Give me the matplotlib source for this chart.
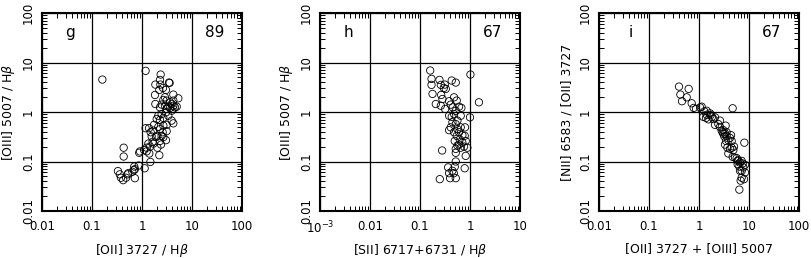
import matplotlib
matplotlib.use("Agg")
import matplotlib.pyplot as plt
from matplotlib.ticker import LogLocator, FixedLocator, NullFormatter

plt.rcParams['font.family'] = ['DejaVu Sans']
plt.rcParams['mathtext.fontset'] = 'dejavusans'

# Panel g: [OII]3727/Hb vs [OIII]5007/Hb
g_x = [0.161, 1.18, 2.36, 2.29, 1.85, 2.33, 3.47, 3.57, 2.63, 3.02, 2.22, 1.82, 2.88, 4.23, 5.33,
       1.85, 2.67, 3.11, 3.63, 3.92, 4.23, 4.57, 3.36, 2.88, 2.47, 2.29, 3.11, 3.63, 4.23, 4.94,
       3.92, 3.02, 2.47, 2.12, 2.29, 1.97, 2.67, 3.36, 3.92, 4.23, 3.11, 2.67, 2.12, 1.74, 1.38,
       1.18, 1.49, 1.69, 2.29, 2.59, 3.11, 2.47, 2.67, 2.03, 1.56, 1.63, 1.69, 1.34, 1.45, 1.24,
       1.91, 2.29, 2.40, 3.02, 2.03, 0.91, 1.10, 1.24, 0.88, 1.40, 2.22, 1.47, 1.13, 0.43, 0.43,
       0.86, 0.70, 0.72, 0.64, 0.52, 0.48, 0.33, 0.36, 0.38, 0.42, 0.72, 0.53, 0.69, 4.23]
g_y = [4.52, 6.78, 5.71, 4.45, 3.58, 3.58, 3.93, 3.87, 3.06, 2.79, 2.79, 2.21, 1.98, 2.25, 1.89,
       1.45, 1.75, 1.70, 1.57, 1.45, 1.34, 1.24, 1.28, 1.34, 1.41, 1.24, 1.15, 1.21, 1.15, 1.28,
       1.06, 0.98, 0.91, 0.84, 0.69, 0.72, 0.76, 0.84, 0.67, 0.59, 0.55, 0.53, 0.50, 0.55, 0.47,
       0.47, 0.39, 0.42, 0.45, 0.39, 0.41, 0.33, 0.31, 0.33, 0.32, 0.25, 0.23, 0.23, 0.20, 0.19,
       0.31, 0.26, 0.22, 0.27, 0.19, 0.16, 0.17, 0.16, 0.15, 0.145, 0.134, 0.098, 0.073, 0.19, 0.126,
       0.083, 0.079, 0.070, 0.062, 0.055, 0.047, 0.064, 0.055, 0.047, 0.042, 0.046, 0.058, 0.067, 1.70]

# Panel h: [SII]6717+6731/Hb vs [OIII]5007/Hb
h_x = [0.160, 0.170, 0.170, 0.245, 0.261, 0.313, 0.431, 0.519, 1.02, 0.299, 0.328, 0.265, 0.178, 0.281,
       0.207, 0.318, 0.261, 0.382, 0.480, 0.543, 0.412, 1.51, 0.452, 0.604, 0.672, 0.382, 0.431, 0.519,
       0.480, 0.560, 0.519, 1.00, 0.412, 0.382, 0.480, 0.560, 0.652, 0.795, 0.543, 0.703, 0.783, 0.623,
       0.495, 0.604, 0.703, 0.820, 0.560, 0.519, 0.652, 0.519, 0.760, 0.277, 0.820, 0.519, 0.365, 0.495,
       0.445, 0.382, 0.473, 0.400, 0.519, 0.249, 0.783, 0.652, 0.604, 0.445, 0.885]
h_y = [6.89, 4.67, 3.53, 4.45, 3.53, 3.58, 4.32, 3.93, 5.71, 3.06, 2.93, 2.21, 2.32, 1.83,
       1.45, 1.15, 1.34, 1.65, 1.98, 1.70, 1.41, 1.57, 1.24, 1.28, 1.21, 0.84, 0.80, 1.06,
       0.91, 0.67, 0.57, 0.78, 0.49, 0.43, 0.39, 0.45, 0.49, 0.49, 0.33, 0.34, 0.33, 0.28,
       0.26, 0.22, 0.24, 0.26, 0.21, 0.18, 0.19, 0.15, 0.20, 0.167, 0.130, 0.100, 0.076, 0.078,
       0.065, 0.058, 0.058, 0.046, 0.046, 0.044, 0.073, 0.84, 0.39, 0.62, 0.19]

# Panel i: [OII]3727+[OIII]5007 vs [NII]6583/[OII]3727
i_x = [0.398, 0.621, 0.424, 0.567, 0.457, 0.714, 0.782, 0.871, 1.05, 1.13, 1.28, 1.42, 1.66, 1.71,
       1.82, 1.94, 2.09, 1.22, 1.38, 1.54, 2.09, 2.44, 2.63, 2.84, 2.97, 3.07, 3.31, 3.21, 3.57, 3.86,
       4.17, 4.50, 3.47, 3.31, 3.69, 4.17, 4.50, 4.86, 3.86, 4.71, 5.25, 5.67, 6.12, 6.61, 7.13, 5.93,
       6.41, 7.47, 8.32, 7.70, 6.61, 6.81, 7.13, 7.94, 6.41, 8.07, 4.71, 3.57, 4.37, 5.01, 5.84, 7.13,
       2.63, 1.42, 3.41, 8.32, 3.07]
i_y = [3.26, 2.93, 2.25, 1.98, 1.65, 1.50, 1.21, 1.15, 1.24, 1.28, 1.03, 1.06, 0.94, 0.87,
       0.80, 0.72, 0.78, 0.80, 0.76, 0.71, 0.55, 0.57, 0.50, 0.42, 0.39, 0.36, 0.37, 0.32, 0.33, 0.27,
       0.30, 0.26, 0.26, 0.22, 0.19, 0.18, 0.19, 0.17, 0.145, 0.124, 0.12, 0.117, 0.106, 0.095, 0.103, 0.088,
       0.079, 0.091, 0.086, 0.076, 0.065, 0.041, 0.047, 0.044, 0.027, 0.24, 1.19, 0.39, 0.34, 0.20, 0.103, 0.065,
       0.67, 0.88, 0.53, 0.060, 0.43]

panels = [
    dict(x=g_x, y=g_y, xlim=(0.01, 100), xticks=[0.01, 0.1, 1, 10, 100],
         xticklabels=['0.01', '0.1', '1', '10', '100'],
         xlabel=r'[OII] 3727 / H$\it{\beta}$', ylabel=r'[OIII] 5007 / H$\it{\beta}$',
         tag='g', count='89', left=42, tagx=0.14),
    dict(x=h_x, y=h_y, xlim=(0.001, 10), xticks=[0.001, 0.01, 0.1, 1, 10],
         xticklabels=[r'$10^{-3}$', '0.01', '0.1', '1', '10'],
         xlabel=r'[SII] 6717+6731 / H$\it{\beta}$', ylabel=r'[OIII] 5007 / H$\it{\beta}$',
         tag='h', count='67', left=320, tagx=0.14),
    dict(x=i_x, y=i_y, xlim=(0.01, 100), xticks=[0.01, 0.1, 1, 10, 100],
         xticklabels=['0.01', '0.1', '1', '10', '100'],
         xlabel='[OII] 3727 + [OIII] 5007', ylabel='[NII] 6583 / [OII] 3727',
         tag='i', count='67', left=599, tagx=0.16),
]

yticks = [0.01, 0.1, 1, 10, 100]
yticklabels = ['0.01', '0.1', '1', '10', '100']

W, H = 812, 258
fig = plt.figure(figsize=(W / 100, H / 100), dpi=100)

for p in panels:
    ax = fig.add_axes([p['left'] / W, (H - 211) / H, 200 / W, 198 / H])
    ax.scatter(p['x'], p['y'], s=28, facecolors='none', edgecolors='black',
               linewidths=0.6, zorder=3)
    ax.set_xscale('log')
    ax.set_yscale('log')
    ax.set_xlim(*p['xlim'])
    ax.set_ylim(0.01, 100)
    ax.xaxis.set_major_locator(FixedLocator(p['xticks']))
    ax.set_xticklabels(p['xticklabels'], fontsize=8.5)
    ax.yaxis.set_major_locator(FixedLocator(yticks))
    ax.set_yticklabels(yticklabels, fontsize=8.5, rotation=90, va='center')
    ax.xaxis.set_minor_locator(LogLocator(base=10, subs=range(2, 10), numticks=20))
    ax.yaxis.set_minor_locator(LogLocator(base=10, subs=range(2, 10), numticks=20))
    ax.xaxis.set_minor_formatter(NullFormatter())
    ax.yaxis.set_minor_formatter(NullFormatter())
    ax.tick_params(which='both', direction='in', top=True, right=True)
    ax.tick_params(axis='x', which='major', length=0, pad=6.5)
    ax.tick_params(axis='y', which='major', length=0, pad=5)
    ax.tick_params(which='minor', length=3.5, width=0.7)
    ax.grid(True, which='major', color='black', linewidth=0.9)
    for s in ax.spines.values():
        s.set_linewidth(1.5)
    ax.set_xlabel(p['xlabel'], fontsize=9)
    ax.set_ylabel(p['ylabel'], fontsize=9)
    ax.xaxis.set_label_coords(0.5, -0.155)
    ax.yaxis.set_label_coords(-0.125, 0.5)
    ax.text(p['tagx'], 0.90, p['tag'], transform=ax.transAxes, fontsize=11,
            ha='center', va='center')
    ax.text(0.865, 0.90, p['count'], transform=ax.transAxes, fontsize=11,
            ha='center', va='center')

fig.savefig('out.png', dpi=100)
